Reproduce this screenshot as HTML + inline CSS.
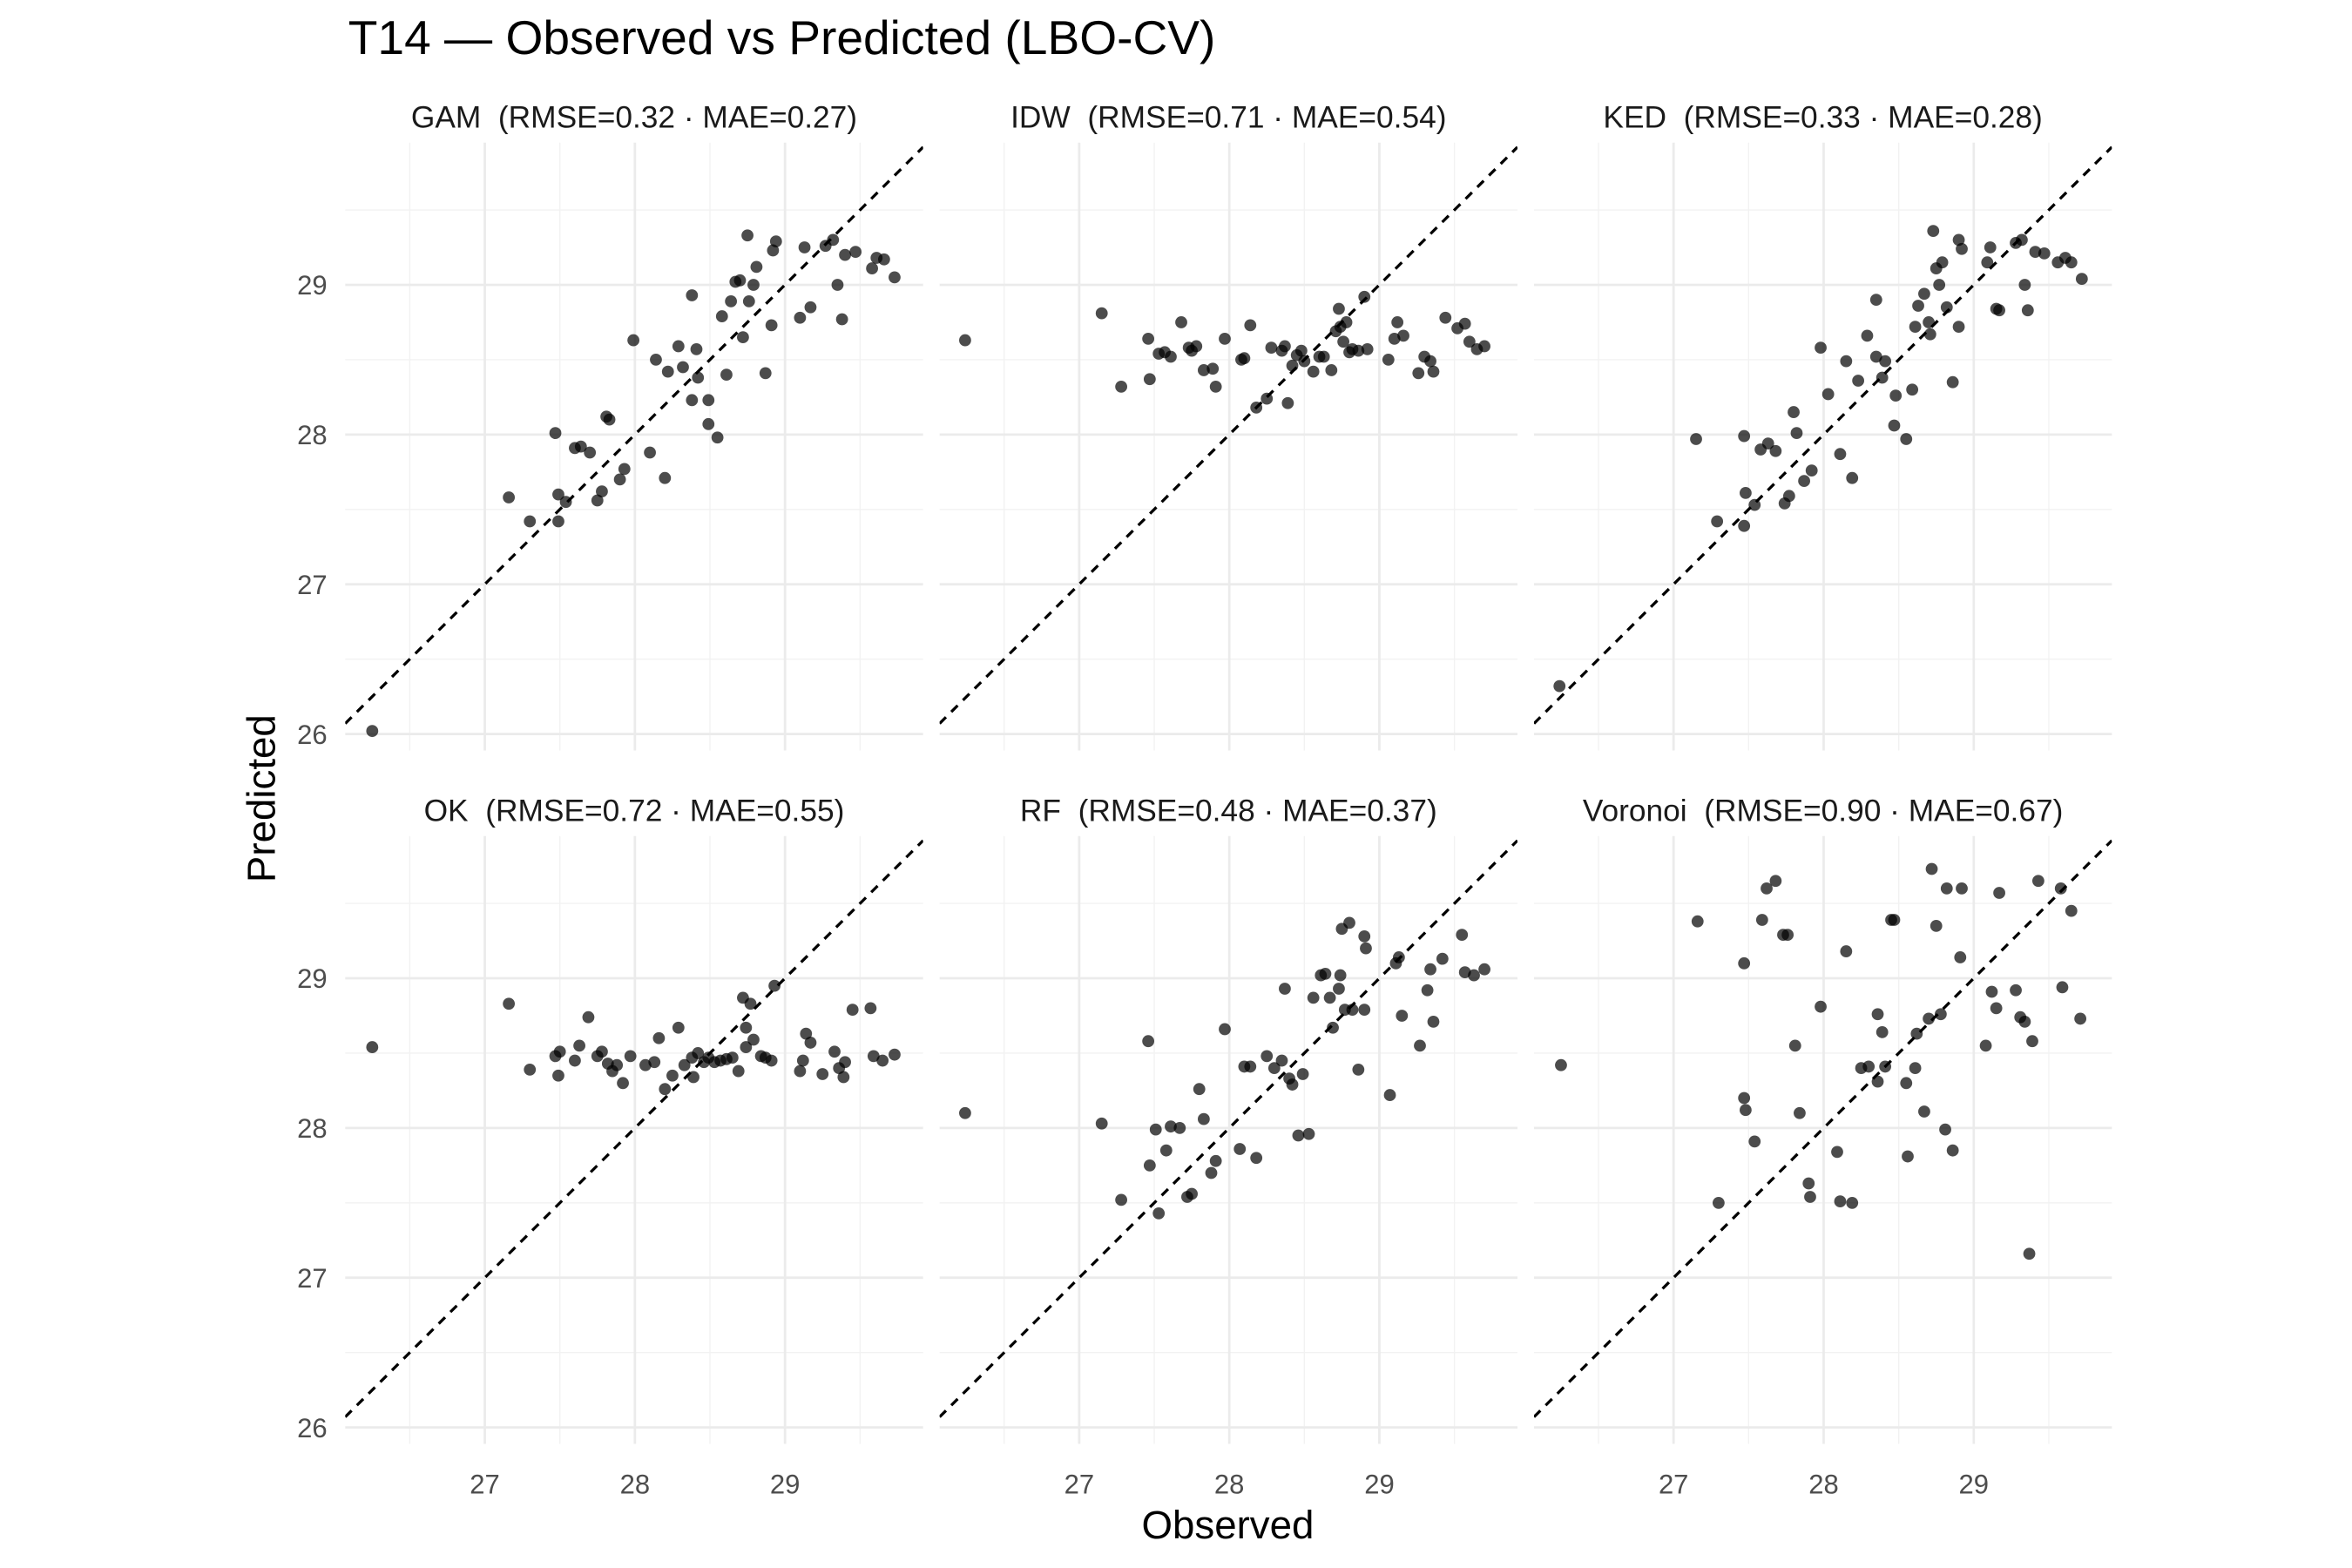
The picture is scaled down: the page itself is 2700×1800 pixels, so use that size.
<!DOCTYPE html>
<html><head><meta charset="utf-8"><style>
html,body{margin:0;padding:0;background:#fff;}
svg{display:block;font-family:"Liberation Sans",sans-serif;}
</style></head><body>
<svg id="chart" width="2700" height="1800" viewBox="0 0 1567 1044.67" xmlns="http://www.w3.org/2000/svg">
<text x="232" y="36" font-size="32" fill="#000">T14 — Observed vs Predicted (LBO-CV)</text>
<text x="818" y="1025" font-size="26.5" text-anchor="middle" fill="#000">Observed</text>
<text transform="translate(183,532) rotate(-90)" font-size="26.5" text-anchor="middle" fill="#000">Predicted</text>
</svg>
<script>
const panelNames = ["GAM","IDW","KED","OK","RF","Voronoi"];
const panelRmse = ["0.32","0.71","0.33","0.72","0.48","0.90"];
const panelMae = ["0.27","0.54","0.28","0.55","0.37","0.67"];
const xTicks = [27,28,29];
const yTicks = [26,27,28,29];
const xMinor = [26.5,27.5,28.5,29.5];
const yMinor = [26.5,27.5,28.5,29.5];

const gamPoints = [[26.25,26.02],[27.16,27.58],[27.30,27.42],[27.47,28.01],[27.49,27.42],[27.49,27.60],[27.54,27.55],[27.60,27.91],[27.64,27.92],[27.70,27.88],[27.75,27.56],[27.78,27.62],[27.81,28.12],[27.83,28.10],[27.90,27.70],[27.93,27.77],[27.99,28.63],[28.10,27.88],[28.14,28.50],[28.20,27.71],[28.22,28.42],[28.29,28.59],[28.32,28.45],[28.38,28.93],[28.38,28.23],[28.41,28.57],[28.42,28.38],[28.49,28.23],[28.49,28.07],[28.55,27.98],[28.58,28.79],[28.61,28.40],[28.64,28.89],[28.67,29.02],[28.70,29.03],[28.72,28.65],[28.75,29.33],[28.76,28.89],[28.79,29.00],[28.81,29.12],[28.87,28.41],[28.91,28.73],[28.92,29.23],[28.94,29.29],[29.10,28.78],[29.13,29.25],[29.17,28.85],[29.27,29.26],[29.32,29.30],[29.35,29.00],[29.38,28.77],[29.40,29.20],[29.47,29.22],[29.58,29.11],[29.61,29.18],[29.66,29.17],[29.73,29.05]];
const idwPoints = [[26.24,28.63],[27.15,28.81],[27.28,28.32],[27.47,28.37],[27.46,28.64],[27.53,28.54],[27.57,28.55],[27.61,28.52],[27.68,28.75],[27.73,28.58],[27.75,28.56],[27.78,28.59],[27.83,28.43],[27.89,28.44],[27.91,28.32],[27.97,28.64],[28.08,28.50],[28.10,28.51],[28.14,28.73],[28.18,28.18],[28.25,28.24],[28.28,28.58],[28.35,28.56],[28.37,28.59],[28.39,28.21],[28.42,28.46],[28.45,28.53],[28.48,28.56],[28.50,28.49],[28.56,28.42],[28.60,28.52],[28.63,28.52],[28.68,28.43],[28.71,28.69],[28.73,28.84],[28.74,28.72],[28.76,28.62],[28.78,28.75],[28.80,28.55],[28.82,28.57],[28.86,28.56],[28.90,28.92],[28.92,28.57],[29.06,28.50],[29.10,28.64],[29.12,28.75],[29.16,28.66],[29.26,28.41],[29.30,28.52],[29.34,28.49],[29.36,28.42],[29.44,28.78],[29.52,28.71],[29.57,28.74],[29.60,28.62],[29.65,28.57],[29.70,28.59]];
const kedPoints = [[26.24,26.32],[27.15,27.97],[27.29,27.42],[27.47,27.99],[27.47,27.39],[27.48,27.61],[27.54,27.53],[27.58,27.90],[27.63,27.94],[27.68,27.89],[27.74,27.54],[27.77,27.59],[27.80,28.15],[27.82,28.01],[27.87,27.69],[27.92,27.76],[27.98,28.58],[28.03,28.27],[28.11,27.87],[28.15,28.49],[28.19,27.71],[28.23,28.36],[28.29,28.66],[28.35,28.52],[28.35,28.90],[28.39,28.38],[28.41,28.49],[28.47,28.06],[28.48,28.26],[28.55,27.97],[28.59,28.30],[28.61,28.72],[28.63,28.86],[28.67,28.94],[28.70,28.75],[28.71,28.67],[28.73,29.36],[28.75,29.11],[28.77,29.00],[28.79,29.15],[28.82,28.85],[28.86,28.35],[28.90,28.72],[28.90,29.30],[28.92,29.24],[29.09,29.15],[29.11,29.25],[29.15,28.84],[29.17,28.83],[29.28,29.28],[29.32,29.30],[29.34,29.00],[29.36,28.83],[29.41,29.22],[29.47,29.21],[29.56,29.15],[29.61,29.18],[29.65,29.15],[29.72,29.04]];
const okPoints = [[26.25,28.54],[27.16,28.83],[27.30,28.39],[27.47,28.48],[27.49,28.35],[27.50,28.51],[27.60,28.45],[27.63,28.55],[27.69,28.74],[27.75,28.48],[27.78,28.51],[27.82,28.43],[27.85,28.38],[27.88,28.42],[27.92,28.30],[27.97,28.48],[28.07,28.42],[28.13,28.44],[28.16,28.60],[28.20,28.26],[28.25,28.35],[28.29,28.67],[28.33,28.42],[28.38,28.47],[28.39,28.34],[28.42,28.50],[28.46,28.44],[28.49,28.47],[28.53,28.44],[28.57,28.45],[28.61,28.46],[28.65,28.47],[28.69,28.38],[28.72,28.87],[28.74,28.54],[28.74,28.67],[28.77,28.83],[28.79,28.59],[28.84,28.48],[28.87,28.47],[28.91,28.45],[28.93,28.95],[29.10,28.38],[29.12,28.45],[29.14,28.63],[29.17,28.57],[29.25,28.36],[29.33,28.51],[29.36,28.40],[29.39,28.34],[29.40,28.44],[29.45,28.79],[29.57,28.80],[29.59,28.48],[29.65,28.45],[29.73,28.49]];
const rfPoints = [[26.24,28.10],[27.15,28.03],[27.28,27.52],[27.46,28.58],[27.47,27.75],[27.51,27.99],[27.53,27.43],[27.58,27.85],[27.61,28.01],[27.67,28.00],[27.72,27.54],[27.75,27.56],[27.80,28.26],[27.83,28.06],[27.88,27.70],[27.91,27.78],[27.97,28.66],[28.07,27.86],[28.10,28.41],[28.14,28.41],[28.18,27.80],[28.25,28.48],[28.30,28.40],[28.35,28.45],[28.37,28.93],[28.40,28.33],[28.42,28.29],[28.46,27.95],[28.49,28.36],[28.53,27.96],[28.56,28.87],[28.61,29.02],[28.64,29.03],[28.67,28.87],[28.69,28.67],[28.73,28.93],[28.74,29.02],[28.75,29.33],[28.77,28.79],[28.80,29.37],[28.82,28.79],[28.86,28.39],[28.90,29.28],[28.90,28.79],[28.91,29.20],[29.07,28.22],[29.11,29.10],[29.13,29.14],[29.15,28.75],[29.27,28.55],[29.32,28.92],[29.34,29.06],[29.36,28.71],[29.42,29.13],[29.55,29.29],[29.57,29.04],[29.63,29.02],[29.70,29.06]];
const voronoiPoints = [[26.25,28.42],[27.16,29.38],[27.30,27.50],[27.47,29.10],[27.47,28.20],[27.48,28.12],[27.54,27.91],[27.59,29.39],[27.62,29.60],[27.68,29.65],[27.73,29.29],[27.76,29.29],[27.81,28.55],[27.84,28.10],[27.90,27.63],[27.91,27.54],[27.98,28.81],[28.09,27.84],[28.11,27.51],[28.15,29.18],[28.19,27.50],[28.25,28.40],[28.30,28.41],[28.36,28.31],[28.36,28.76],[28.39,28.64],[28.41,28.41],[28.45,29.39],[28.47,29.39],[28.55,28.30],[28.56,27.81],[28.61,28.40],[28.62,28.63],[28.67,28.11],[28.70,28.73],[28.72,29.73],[28.75,29.35],[28.78,28.76],[28.81,27.99],[28.82,29.60],[28.86,27.85],[28.91,29.14],[28.92,29.60],[29.08,28.55],[29.12,28.91],[29.15,28.80],[29.17,29.57],[29.28,28.92],[29.31,28.74],[29.34,28.71],[29.37,27.16],[29.39,28.58],[29.43,29.65],[29.58,29.60],[29.59,28.94],[29.65,29.45],[29.71,28.73]];
const allPoints = [gamPoints,idwPoints,kedPoints,okPoints,rfPoints,voronoiPoints];

const NS="http://www.w3.org/2000/svg";
const svg=document.getElementById("chart");
const X0=26.07, X1=29.92, Y0=25.89, Y1=29.95;
const panelLeft=[230,626,1022], panelTop=[95,557], PW=385, PH=405;
function mk(tag,attrs,parent){const e=document.createElementNS(NS,tag);for(const k in attrs)e.setAttribute(k,attrs[k]);(parent||svg).appendChild(e);return e;}
const defs=mk("defs",{});
for(let p=0;p<6;p++){
  const col=p%3,row=Math.floor(p/3);
  const L=panelLeft[col],T=panelTop[row];
  const sx=v=>L+(v-X0)/(X1-X0)*PW;
  const sy=v=>T+(Y1-v)/(Y1-Y0)*PH;
  const cp=mk("clipPath",{id:"clip"+p},defs);
  mk("rect",{x:L,y:T,width:PW,height:PH},cp);
  const g=mk("g",{});
  
  
  xMinor.forEach(v=>{const l=mk("line",{x1:sx(v),x2:sx(v),y1:T,y2:T+PH,stroke:"#f2f2f2","stroke-width":0.8},g);
    
    });
  yMinor.forEach(v=>{const l=mk("line",{x1:L,x2:L+PW,y1:sy(v),y2:sy(v),stroke:"#f2f2f2","stroke-width":0.8},g);
    
    });
  xTicks.forEach(v=>{const l=mk("line",{x1:sx(v),x2:sx(v),y1:T,y2:T+PH,stroke:"#ebebeb","stroke-width":1.6},g);
    
    });
  yTicks.forEach(v=>{const l=mk("line",{x1:L,x2:L+PW,y1:sy(v),y2:sy(v),stroke:"#ebebeb","stroke-width":1.6},g);
    
    });
  const d=mk("line",{x1:sx(X0),y1:sy(X0),x2:sx(X1),y2:sy(X1),stroke:"#000","stroke-width":1.9,"stroke-dasharray":"6 5","clip-path":"url(#clip"+p+")"},g);
  
  
  allPoints[p].forEach(pt=>{const c=mk("circle",{cx:sx(pt[0]),cy:sy(pt[1]),r:4,fill:"#000","fill-opacity":0.7},g);
    
    });
  const st=mk("text",{x:L+PW/2,y:T-10,"font-size":20.5,"text-anchor":"middle",fill:"#1a1a1a"},g);
  
  
  st.textContent=panelNames[p]+"\u00a0\u00a0(RMSE="+panelRmse[p]+" \u00b7 MAE="+panelMae[p]+")";
  if(col===0){yTicks.forEach(v=>{const t=mk("text",{x:218,y:sy(v)+6.5,"font-size":18,"text-anchor":"end",fill:"#4d4d4d"});
    
    
    t.textContent=v;});}
  if(row===1){xTicks.forEach(v=>{const t=mk("text",{x:sx(v),y:995,"font-size":18,"text-anchor":"middle",fill:"#4d4d4d"});
    
    
    t.textContent=v;});}
}
</script>
</body></html>
